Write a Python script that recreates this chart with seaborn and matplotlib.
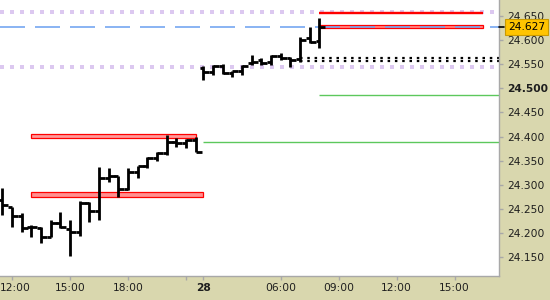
import numpy as np
import pandas as pd
import matplotlib
matplotlib.use("Agg")
import matplotlib.pyplot as plt
import matplotlib.transforms as mtransforms
from matplotlib.patches import Rectangle
import seaborn as sns

# ---------------- data ----------------
# day 1 (27th), 30-minute bars 11:30 .. 21:30
day1_hours = [11.5 + 0.5 * k for k in range(21)]
day1_open = [24.268, 24.254, 24.235, 24.212, 24.210, 24.191, 24.220, 24.208, 24.202, 24.262, 24.245,
             24.314, 24.318, 24.291, 24.326, 24.339, 24.355, 24.366, 24.389, 24.387, 24.393]
day1_high = [24.293, 24.254, 24.241, 24.216, 24.212, 24.227, 24.243, 24.227, 24.266, 24.264, 24.337,
             24.335, 24.318, 24.335, 24.339, 24.357, 24.368, 24.403, 24.397, 24.395, 24.399]
day1_low = [24.237, 24.212, 24.202, 24.191, 24.179, 24.191, 24.210, 24.152, 24.194, 24.223, 24.227,
            24.306, 24.274, 24.289, 24.314, 24.335, 24.349, 24.362, 24.378, 24.376, 24.368]
day1_close = [24.258, 24.235, 24.210, 24.212, 24.191, 24.220, 24.212, 24.202, 24.262, 24.245, 24.314,
              24.318, 24.291, 24.326, 24.339, 24.355, 24.366, 24.389, 24.387, 24.393, 24.368]

# day 2 (28th), 30-minute bars 02:00 .. 08:00
day2_hours = [2.0 + 0.5 * k for k in range(13)]
day2_open = [24.542, 24.534, 24.546, 24.532, 24.536, 24.552, 24.559, 24.555, 24.567, 24.563, 24.561, 24.604, 24.598]
day2_high = [24.546, 24.548, 24.550, 24.536, 24.548, 24.569, 24.563, 24.569, 24.573, 24.565, 24.606, 24.627, 24.646]
day2_low = [24.517, 24.528, 24.530, 24.523, 24.528, 24.548, 24.548, 24.548, 24.559, 24.544, 24.555, 24.594, 24.584]
day2_close = [24.534, 24.546, 24.532, 24.536, 24.546, 24.555, 24.552, 24.567, 24.563, 24.559, 24.600, 24.596, 24.627]

last_price = 24.627
level_lavender = [24.658, 24.544]
level_red_line = 24.656
band_right = (24.625, 24.632)
band_top_left = (24.3975, 24.4045)
band_low_left = (24.275, 24.285)
level_black_dotted = [24.562, 24.556]
level_green_1 = 24.486
level_green_2 = 24.389

y_ticks = [24.150, 24.200, 24.250, 24.300, 24.350, 24.400, 24.450, 24.500, 24.550, 24.600, 24.650]
y_bold = "24.500"
x_tick_labels = ["12:00", "15:00", "18:00", "", "28", "06:00", "09:00", "12:00", "15:00"]
x_tick_day = [1, 1, 1, 1, 2, 2, 2, 2, 2]
x_tick_hours = [12, 15, 18, 21, 2, 6, 9, 12, 15]

# --------------- layout mapping (bar index axis) ---------------
DAY2_OFFSET = 20.8
def pos(day, h):
    return (h - 11.5) * 2 if day == 1 else DAY2_OFFSET + (h - 2.0) * 2

p1 = np.array([pos(1, h) for h in day1_hours])
p2 = np.array([pos(2, h) for h in day2_hours])
bars = pd.DataFrame({
    "pos": np.concatenate([p1, p2]),
    "open": day1_open + day2_open,
    "high": day1_high + day2_high,
    "low": day1_low + day2_low,
    "close": day1_close + day2_close,
})
bars["bar"] = np.arange(len(bars))
long = pd.concat([
    bars[["bar", "pos"]].assign(price=bars["high"]),
    bars[["bar", "pos"]].assign(price=bars["low"]),
])

# --------------- style ---------------
sns.set_theme(style="white")
plt.rcParams["font.family"] = ["DejaVu Sans"]
plt.rcParams["lines.scale_dashes"] = False
BEIGE = "#d9d7ae"
PX = 0.72  # points per pixel at 100 dpi
BAR_LW = 2.8 * PX

fig = plt.figure(figsize=(5.5, 3.0), dpi=100, facecolor=BEIGE)
ax = fig.add_axes([0, 24 / 300, 499 / 550, 276 / 300])
ax.set_facecolor("white")

xmin, xmax = -0.24, 51.38
ax.set_xlim(xmin, xmax)
ax.set_ylim(24.1106, 24.6832)

# lavender dotted levels
for lv in level_lavender:
    ax.axhline(lv, color="#dcc8f0", lw=4 * PX, dashes=(4 * PX, 6 * PX),
               dash_capstyle="butt", zorder=1)

# rectangles
ax.add_patch(Rectangle((3.0, band_top_left[0]), 17.0, band_top_left[1] - band_top_left[0],
                       fc="#ff9a9a", ec="#ff0000", lw=0.9, zorder=2))
ax.add_patch(Rectangle((3.0, band_low_left[0]), DAY2_OFFSET - 3.0, band_low_left[1] - band_low_left[0],
                       fc="#ff9090", ec="#ff0000", lw=0.9, zorder=2))
ax.add_patch(Rectangle((p2[-1], band_right[0]), 49.7 - p2[-1], band_right[1] - band_right[0],
                       fc="#ff8a8a", ec="#ff0000", lw=0.9, zorder=2))

# green levels
ax.hlines(level_green_1, p2[-1], xmax, color="#5cc85c", lw=1.0, zorder=2)
ax.hlines(level_green_2, DAY2_OFFSET, xmax, color="#5cc85c", lw=1.0, zorder=2)

# black dotted level (double row of dots)
for lv in level_black_dotted:
    ax.hlines(lv, p2[10], xmax, color="black", lw=2.2 * PX,
              linestyles=[(0, (2.5 * PX, 4.8 * PX))], zorder=2)

# blue dashed last price
ax.axhline(last_price, color="#6a9ff0", lw=1.1, dashes=(25 * PX, 10 * PX), zorder=2.8)

# red line
ax.hlines(level_red_line, p2[-1], 49.7, color="#ff0000", lw=2.4 * PX, zorder=4)

# OHLC bars: high-low via seaborn, open/close ticks
sns.lineplot(data=long, x="pos", y="price", units="bar", estimator=None, sort=False,
             color="black", lw=BAR_LW, ax=ax, legend=False, zorder=3)
for ln in ax.lines[-len(bars):]:
    ln.set_solid_capstyle("butt")
ax.hlines(bars["open"], bars["pos"] - 0.4, bars["pos"], color="black", lw=BAR_LW, zorder=3)
ax.hlines(bars["close"], bars["pos"], bars["pos"] + 0.62, color="black", lw=BAR_LW, zorder=3)

ax.set_xlabel("")
ax.set_ylabel("")
ax.set_xlim(xmin, xmax)
ax.set_ylim(24.1106, 24.6832)

# axes / ticks
for s in ["left", "top"]:
    ax.spines[s].set_visible(False)
for s in ["right", "bottom"]:
    ax.spines[s].set_color("#a8a8a8")
    ax.spines[s].set_linewidth(1.0)

ax.yaxis.tick_right()
ax.set_yticks(y_ticks)
ylabs = ax.set_yticklabels([f"{v:.3f}" for v in y_ticks])
for t in ylabs:
    if t.get_text() == y_bold:
        t.set_fontweight("bold")
xt = [pos(d, h) for d, h in zip(x_tick_day, x_tick_hours)]
ax.set_xticks(xt)
xlabs = ax.set_xticklabels(x_tick_labels)
for t in xlabs:
    if t.get_text() == "28":
        t.set_fontweight("bold")
ax.tick_params(axis="both", which="both", direction="out", length=4 * PX, width=1.0,
               color="#a8a8a8", labelsize=7.7, labelcolor="#1e1e1e")
ax.tick_params(axis="y", pad=4 * PX, right=True, left=False)
ax.tick_params(axis="x", pad=3 * PX, bottom=True)
# keep the first time label inside the figure edge
xlabs[0].set_transform(xlabs[0].get_transform() +
                       mtransforms.ScaledTranslation(3 / 100, 0, fig.dpi_scale_trans))

# last price tag
trans = mtransforms.blended_transform_factory(ax.transAxes, ax.transData)
ax.plot([1.0, 1.0 + 5 / 499], [last_price, last_price], color="black", lw=1.2,
        transform=trans, clip_on=False, zorder=5)
ax.text(1.0 + 9 / 499, last_price, f"{last_price:.3f}", transform=trans, ha="left", va="center",
        fontsize=7.7, color="black", clip_on=False, zorder=6,
        bbox=dict(boxstyle="square,pad=0.28", fc="#ffc400", ec="#c99a00", lw=0.8))

fig.savefig("out.png", dpi=100, facecolor=BEIGE)
